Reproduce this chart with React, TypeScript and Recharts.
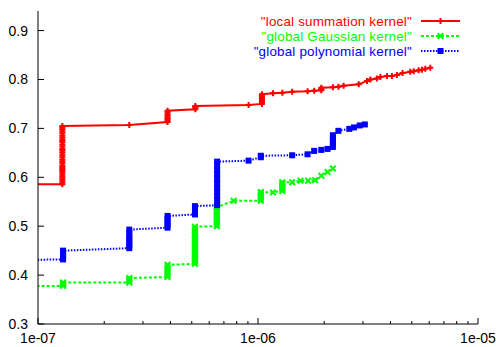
import React from "react";
import { LineChart, Line, XAxis, YAxis, Legend } from "recharts";

const W = 496;
const H = 347;
const FONT = "'Liberation Sans', Arial, sans-serif";

// axis setup (log x from 1e-7 to 1e-5)
const xMajor = [1e-7, 1e-6, 1e-5];
const xMajorLabels = ["1e-07", "1e-06", "1e-05"];
const xMinor = [2e-7, 3e-7, 4e-7, 5e-7, 6e-7, 7e-7, 8e-7, 9e-7, 2e-6, 3e-6, 4e-6, 5e-6, 6e-6, 7e-6, 8e-6, 9e-6];
const xTicks = [...xMajor, ...xMinor].sort((a, b) => a - b);
const yTicks = [0.3, 0.4, 0.5, 0.6, 0.7, 0.8, 0.9];
const yLabels = ["0.3", "0.4", "0.5", "0.6", "0.7", "0.8", "0.9"];

const seriesNames = ['"local summation kernel"', '"global Gaussian kernel"', '"global polynomial kernel"'];
const seriesColours = ["#ff0000", "#00ff00", "#0000ff"];

// "local summation kernel"
const localX = [
  8e-8,
  1.29e-7, 1.29e-7, 1.29e-7, 1.29e-7, 1.29e-7, 1.29e-7, 1.29e-7, 1.29e-7, 1.29e-7, 1.29e-7,
  1.29e-7, 1.29e-7, 1.29e-7, 1.29e-7, 1.29e-7, 1.29e-7, 1.29e-7, 1.29e-7, 1.29e-7, 1.29e-7,
  1.29e-7, 1.29e-7, 1.29e-7, 1.29e-7, 1.29e-7, 1.29e-7, 1.29e-7, 1.29e-7, 1.29e-7,
  2.6e-7,
  3.88e-7, 3.88e-7, 3.88e-7, 3.88e-7, 3.88e-7, 3.88e-7, 3.88e-7, 3.88e-7,
  5.19e-7, 5.19e-7, 5.19e-7, 5.19e-7,
  9.06e-7,
  1.042e-6, 1.042e-6, 1.042e-6, 1.042e-6, 1.042e-6, 1.042e-6, 1.042e-6, 1.042e-6,
  1.17e-6, 1.29e-6, 1.43e-6, 1.68e-6, 1.8e-6,
  1.94e-6, 1.94e-6, 1.94e-6,
  2.19e-6, 2.32e-6, 2.45e-6, 2.87e-6, 3.13e-6, 3.24e-6, 3.47e-6, 3.6e-6, 3.86e-6, 4.06e-6,
  4.28e-6, 4.54e-6, 4.92e-6, 5.1e-6, 5.37e-6, 5.56e-6, 5.76e-6, 6.07e-6,
];
const localY = [
  0.586,
  0.586, 0.59, 0.594, 0.598, 0.602, 0.606, 0.611, 0.615, 0.619, 0.623,
  0.628, 0.632, 0.636, 0.641, 0.645, 0.65, 0.654, 0.658, 0.663, 0.667,
  0.672, 0.676, 0.681, 0.685, 0.69, 0.694, 0.698, 0.702, 0.705,
  0.707,
  0.713, 0.716, 0.719, 0.722, 0.726, 0.729, 0.733, 0.736,
  0.739, 0.742, 0.744, 0.746,
  0.748,
  0.75, 0.753, 0.756, 0.759, 0.762, 0.765, 0.768, 0.77,
  0.772, 0.773, 0.775, 0.776, 0.777,
  0.778, 0.781, 0.783,
  0.784, 0.785, 0.787, 0.79, 0.797, 0.8, 0.802, 0.805, 0.807, 0.807,
  0.809, 0.813, 0.816, 0.817, 0.819, 0.82, 0.822, 0.824,
];

// "global Gaussian kernel"
const gaussX = [
  8e-8,
  1.3e-7, 1.3e-7, 1.3e-7, 1.3e-7,
  2.6e-7, 2.6e-7, 2.6e-7, 2.6e-7,
  3.88e-7, 3.88e-7, 3.88e-7, 3.88e-7, 3.88e-7, 3.88e-7, 3.88e-7,
  5.17e-7, 5.17e-7, 5.17e-7, 5.17e-7, 5.17e-7, 5.17e-7, 5.17e-7, 5.17e-7, 5.17e-7, 5.17e-7,
  5.17e-7, 5.17e-7, 5.17e-7, 5.17e-7, 5.17e-7, 5.17e-7, 5.17e-7, 5.17e-7, 5.17e-7, 5.17e-7,
  6.5e-7, 6.5e-7, 6.5e-7, 6.5e-7, 6.5e-7, 6.5e-7, 6.5e-7, 6.5e-7, 6.5e-7, 6.5e-7, 6.5e-7,
  7.75e-7,
  1.03e-6, 1.03e-6, 1.03e-6, 1.03e-6, 1.03e-6, 1.03e-6,
  1.17e-6,
  1.29e-6, 1.29e-6, 1.29e-6, 1.29e-6, 1.29e-6, 1.29e-6,
  1.43e-6, 1.56e-6, 1.69e-6, 1.82e-6, 1.94e-6, 2.07e-6, 2.19e-6,
];
const gaussY = [
  0.377,
  0.378, 0.38, 0.383, 0.385,
  0.385, 0.388, 0.391, 0.394,
  0.396, 0.4, 0.404, 0.408, 0.412, 0.416, 0.421,
  0.423, 0.427, 0.431, 0.435, 0.439, 0.443, 0.447, 0.451, 0.455, 0.459,
  0.463, 0.467, 0.471, 0.475, 0.479, 0.483, 0.487, 0.491, 0.495, 0.499,
  0.5, 0.504, 0.508, 0.512, 0.516, 0.52, 0.524, 0.528, 0.532, 0.536, 0.539,
  0.552,
  0.552, 0.556, 0.56, 0.564, 0.568, 0.57,
  0.569,
  0.572, 0.576, 0.58, 0.584, 0.588, 0.59,
  0.59, 0.593, 0.593, 0.594, 0.603, 0.611, 0.618,
];

// "global polynomial kernel"
const polyX = [
  8e-8,
  1.3e-7, 1.3e-7, 1.3e-7, 1.3e-7, 1.3e-7,
  2.6e-7, 2.6e-7, 2.6e-7, 2.6e-7, 2.6e-7, 2.6e-7, 2.6e-7,
  3.88e-7, 3.88e-7, 3.88e-7, 3.88e-7, 3.88e-7,
  5.17e-7, 5.17e-7, 5.17e-7, 5.17e-7,
  6.52e-7, 6.52e-7, 6.52e-7, 6.52e-7, 6.52e-7, 6.52e-7, 6.52e-7, 6.52e-7, 6.52e-7, 6.52e-7, 6.52e-7,
  9.06e-7,
  1.03e-6, 1.03e-6,
  1.43e-6, 1.68e-6, 1.8e-6, 1.94e-6, 2.07e-6,
  2.19e-6, 2.19e-6, 2.19e-6, 2.19e-6, 2.19e-6,
  2.32e-6, 2.6e-6, 2.73e-6, 2.9e-6, 3.06e-6,
];
const polyY = [
  0.431,
  0.432, 0.436, 0.441, 0.446, 0.45,
  0.455, 0.461, 0.467, 0.473, 0.479, 0.486, 0.493,
  0.497, 0.503, 0.509, 0.515, 0.521,
  0.524, 0.53, 0.536, 0.541,
  0.543, 0.552, 0.561, 0.57, 0.579, 0.588, 0.597, 0.606, 0.615, 0.624, 0.632,
  0.634,
  0.641, 0.644,
  0.645, 0.647, 0.654, 0.656, 0.658,
  0.662, 0.668, 0.674, 0.68, 0.686,
  0.695, 0.699, 0.702, 0.706, 0.708,
];

const zip = (xs: number[], ys: number[]) => xs.map((x, i) => ({ x, y: ys[i] }));
const localData = zip(localX, localY);
const gaussData = zip(gaussX, gaussY);
const polyData = zip(polyX, polyY);

// point shapes: plus, cross, filled square
const plusPath = (x: number, y: number, s: number) => `M${x - s},${y}h${2 * s}M${x},${y - s}v${2 * s}`;
const crossPath = (x: number, y: number, s: number) =>
  `M${x - s},${y - s}L${x + s},${y + s}M${x - s},${y + s}L${x + s},${y - s}`;

const PlusDot = (p: any) => (
  <path key={`p${p.index}`} d={plusPath(p.cx, p.cy, 3)} stroke={seriesColours[0]} strokeWidth={2} fill="none" />
);
const CrossDot = (p: any) => (
  <path key={`c${p.index}`} d={crossPath(p.cx, p.cy, 2.8)} stroke={seriesColours[1]} strokeWidth={2} fill="none" />
);
const SquareDot = (p: any) => (
  <rect key={`s${p.index}`} x={p.cx - 3} y={p.cy - 3} width={6} height={6} fill={seriesColours[2]} />
);

const BottomTick = (p: any) => {
  const i = xMajor.indexOf(p.payload.value);
  return (
    <g>
      <line x1={p.x} x2={p.x} y1={p.y} y2={p.y - (i >= 0 ? 6 : 3)} stroke="#000" />
      {i >= 0 && (
        <text x={p.x} y={p.y + 19} textAnchor="middle" fontSize={14} fontFamily={FONT} fill="#000">
          {xMajorLabels[i]}
        </text>
      )}
    </g>
  );
};

const TopTick = (p: any) => {
  const major = xMajor.indexOf(p.payload.value) >= 0;
  return <line x1={p.x} x2={p.x} y1={p.y} y2={p.y + (major ? 6 : 3)} stroke="#000" />;
};

const LeftTick = (p: any) => {
  const i = yTicks.indexOf(p.payload.value);
  return (
    <g>
      <line x1={p.x} x2={p.x + 6} y1={p.y} y2={p.y} stroke="#000" />
      <text x={p.x - 10} y={p.y + 5} textAnchor="end" fontSize={14} fontFamily={FONT} fill="#000">
        {yLabels[i]}
      </text>
    </g>
  );
};

const RightTick = (p: any) => <line x1={p.x} x2={p.x - 6} y1={p.y} y2={p.y} stroke="#000" />;

const LegendBox = () => {
  const rows = [21, 36, 51];
  const dashes = [undefined, "3 2", "1.5 1.5"];
  const dots = [PlusDot, CrossDot, SquareDot];
  return (
    <svg width={W} height={62} style={{ display: "block" }}>
      {seriesNames.map((name, i) => (
        <g key={name}>
          <text
            x={412}
            y={rows[i] + 5}
            textAnchor="end"
            fontSize={13.4}
            letterSpacing={0.2}
            fontFamily={FONT}
            fill={seriesColours[i]}
          >
            {name}
          </text>
          <line x1={421} x2={460} y1={rows[i]} y2={rows[i]} stroke={seriesColours[i]} strokeWidth={2} strokeDasharray={dashes[i]} />
          {dots[i]({ cx: 440.5, cy: rows[i], index: 0 })}
        </g>
      ))}
    </svg>
  );
};

export default function App() {
  return (
    <div style={{ position: "absolute", left: 0, top: 0, width: W, height: H, background: "#fff" }}>
      <LineChart width={W} height={H} margin={{ top: 11, right: 18, bottom: 0, left: 0 }}>
        <XAxis
          dataKey="x"
          type="number"
          scale="log"
          domain={[1e-7, 1e-5]}
          allowDataOverflow
          ticks={xTicks}
          interval={0}
          height={23}
          tickSize={0}
          tickMargin={0}
          tickLine={false}
          tick={BottomTick}
          axisLine={{ stroke: "#000" }}
        />
        <XAxis
          xAxisId="top"
          orientation="top"
          dataKey="x"
          type="number"
          scale="log"
          domain={[1e-7, 1e-5]}
          allowDataOverflow
          ticks={xTicks}
          interval={0}
          height={0}
          tickSize={0}
          tickMargin={0}
          tickLine={false}
          tick={TopTick}
          axisLine={{ stroke: "#000" }}
        />
        <YAxis
          type="number"
          domain={[0.3, 0.94]}
          allowDataOverflow
          ticks={yTicks}
          interval={0}
          width={38}
          tickSize={0}
          tickMargin={0}
          tickLine={false}
          tick={LeftTick}
          axisLine={{ stroke: "#000" }}
        />
        <YAxis
          yAxisId="right"
          orientation="right"
          type="number"
          domain={[0.3, 0.94]}
          allowDataOverflow
          ticks={yTicks}
          interval={0}
          width={0}
          tickSize={0}
          tickMargin={0}
          tickLine={false}
          tick={RightTick}
          axisLine={{ stroke: "#000" }}
        />
        <Legend
          layout="horizontal"
          verticalAlign="middle"
          align="center"
          wrapperStyle={{ left: 0, top: 0, width: W, height: 62 }}
          content={LegendBox}
        />
        <Line
          data={localData}
          dataKey="y"
          type="linear"
          stroke={seriesColours[0]}
          strokeWidth={2}
          dot={PlusDot}
          activeDot={false}
          isAnimationActive={false}
        />
        <Line
          data={gaussData}
          dataKey="y"
          type="linear"
          stroke={seriesColours[1]}
          strokeWidth={2}
          strokeDasharray="3 2"
          dot={CrossDot}
          activeDot={false}
          isAnimationActive={false}
        />
        <Line
          data={polyData}
          dataKey="y"
          type="linear"
          stroke={seriesColours[2]}
          strokeWidth={2}
          strokeDasharray="1.5 1.5"
          dot={SquareDot}
          activeDot={false}
          isAnimationActive={false}
        />
      </LineChart>
    </div>
  );
}
